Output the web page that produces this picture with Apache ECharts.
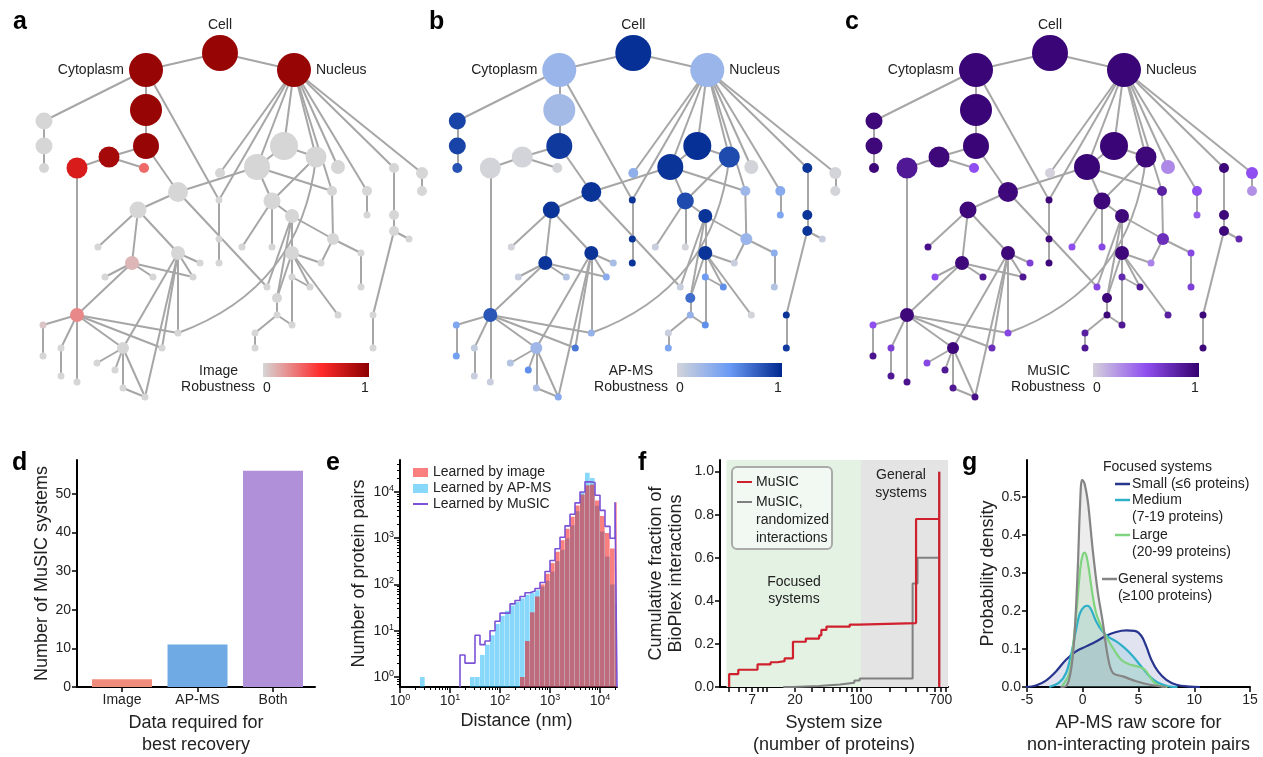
<!DOCTYPE html>
<html><head><meta charset="utf-8">
<script src="https://cdn.jsdelivr.net/npm/echarts@6/dist/echarts.min.js"></script>
<style>html,body{margin:0;padding:0;background:#fff}#c{width:1263px;height:757px}</style>
</head><body><div id="c"></div>
<script>
const FONT = "'Liberation Sans', Arial, Helvetica, sans-serif";

// ---------- Panels a-c : hierarchy of MuSIC systems ----------
const nodeX = [220,146,294,146,146,109,77,144,44,44,44,178,138,132,178,98,105,153,200,193,77,43,43,61,61,77,123,97,115,123,145,162,178,219,219,219,220,267,257,284,316,338,332,367,367,394,394,394,409,373,373,422,422,272,242,272,292,333,321,361,361,292,292,310,338,292,277,277,255,255];
const nodeY = [53,70,70,110,146,157,168,168,121,146,168,192,210,263,253,247,277,277,263,277,315,325,356,348,376,382,348,363,370,388,397,348,333,200,239,263,173,287,167,146,157,167,191,191,215,168,215,231,239,315,348,173,191,201,247,247,216,239,263,253,287,253,277,287,315,325,298,315,333,348];
const nodeSize = [36,34,34,32,26,21,21,10,17,17,10,20,17,14,14,7,7,7,7,7,14,7,7,7,7,7,12,7,7,7,7,7,7,7,7,7,10,7,26,28,21,14,10,10,7,10,10,10,7,7,7,12,10,17,7,7,14,12,7,7,7,14,7,7,7,7,10,7,7,7];
const nodeLabels = ['Cell','Cytoplasm','Nucleus'];
const edges = [[0,1],[0,2],[1,3],[3,4],[4,5],[5,6],[5,7],[1,8],[8,9],[9,10],[1,33],[2,36],[2,33],[2,38],[2,39],[2,40],[2,41],[2,42],[2,43],[2,45],[2,51],[39,40],[39,38],
 [4,11],[11,12],[11,38],[11,37],[12,15],[12,13],[12,14],[13,16],[13,17],[13,19],[14,18],[14,19],[14,26],[14,31],[14,32],[14,30],
 [6,20],[20,13],[20,21],[21,22],[20,23],[23,24],[20,25],[20,26],[20,31],[20,32],[26,27],[26,28],[26,29],[26,30],[29,30],[32,40,-0.31],
 [33,34],[34,35],[38,42],[38,53],[40,53],[53,56],[53,54],[53,55],[56,57],[56,61],[56,37],[56,66],[42,57],[57,58],[57,59],[59,60],
 [61,58],[61,62],[62,63],[61,63],[61,64],[61,65],[61,66],[66,67],[67,68],[68,69],[67,65],[43,44],[45,46],[46,47],[47,48],[47,49],[49,50],[51,52]];
const imageRobustness = [.95,.95,.95,.95,.95,.9,.7,.35,0,0,0,0,0,.1,0,0,0,0,0,0,.25,.05,0,0,0,0,0,0,0,0,0,0,0,0,0,0,0,0,0,0,0,0,0,0,0,0,0,0,0,0,0,0,0,0,0,0,0,0,0,0,0,0,0,0,0,0,0,0,0,0];
const apmsRobustness = [.97,.27,.27,.22,.93,0,0,0,.88,.88,.82,.95,.95,.95,.95,0,.05,.15,.2,.35,.8,.4,.45,.08,.05,.05,.25,.15,.55,.18,.35,.65,.3,.95,.95,.95,.32,.05,.95,.97,.85,0,.25,.35,.4,.95,.95,.95,.05,.95,.92,0,0,.85,.05,0,.95,.27,.05,.33,.15,.95,.48,.55,0,.55,.7,.3,.05,.4];
const musicRobustness = [.97,.97,.97,.97,.97,.95,.85,.5,.95,.95,.95,.95,.95,.95,.95,.9,.5,.85,.6,.85,.95,.5,.88,.6,.85,.88,.95,.55,.85,.85,.9,.7,.55,.95,.95,.95,0,.55,.97,.97,.95,.28,.8,.5,.45,.95,.95,.95,.75,.95,.95,.5,.25,.95,.5,.55,.95,.7,.3,.55,.6,.95,.75,.85,.8,.85,.95,.95,.8,.85];
const imageStops = [[0,'#d6d6d6'],[0.55,'#ff2a2a'],[1,'#8b0000']];
const apmsStops = [[0,'#d2d4da'],[0.5,'#6a9af5'],[1,'#00298f']];
const musicStops = [[0,'#d4d0dc'],[0.5,'#8f4ff0'],[1,'#35006e']];

// ---------- Panel d ----------
const dCategories = ['Image','AP-MS','Both'];
const dCounts = [2, 11, 56];
const dColors = ['#f08c7c','#6faae4','#b090d8'];
const dTicks = [0,10,20,30,40,50];

// ---------- Panel e (bins in log10 nm) ----------
const binEdgesLog10nm = [0.4,0.5,0.6,0.7,0.8,0.9,1.0,1.1,1.2,1.3,1.4,1.5,1.6,1.7,1.8,1.9,2.0,2.1,2.2,2.3,2.4,2.5,2.6,2.7,2.8,2.9,3.0,3.1,3.2,3.3,3.4,3.5,3.6,3.7,3.8,3.9,4.0,4.1,4.2,4.3,4.34];
const pairsApms  = [1,0,0,0,0,0,0,0,0,0,1,1,3,5,8,14,21,27,35,42,50,60,66,75,90,120,190,320,560,1000,1900,3800,10000,26000,20000,5000,1400,400,100,40];
const pairsImage = [0,0,0,0,0,0,0,0,0,0,0,0,0,0,0,0,0,0,0,0,1,6,25,55,100,170,290,510,900,1600,2900,5100,8800,14000,14500,6500,3000,1300,600,6000];
const pairsMusic = [0,0,0,0,0,0,0,0,3,2,2,8,5,6,10,16,24,24,38,45,55,66,72,82,110,190,330,590,1050,1850,3300,5800,10000,16500,16000,8500,4000,1800,1000,6000];
const eDecades = [0,1,2,3,4];

// ---------- Panel f ----------
const fMusicSize = [4,4,5,8,11,13,15.5,19,26,36,38,43,76,94,384,676,676];
const fMusicCum  = [0,0.06,0.08,0.105,0.115,0.12,0.133,0.21,0.225,0.24,0.265,0.28,0.29,0.297,0.78,1.0,0];
const fRandSize  = [15,19,36,60,85,97,353,398,676,676];
const fRandCum   = [0,0.005,0.012,0.02,0.03,0.04,0.48,0.6,1.0,0];
const fTickSizes = [4,5,6,7,8,9,10,20,30,40,50,60,70,80,90,100,200,300,400,500,600,700,800];
const fLabelSizes = [7,20,100,700];
const fYTicks = [0,0.2,0.4,0.6,0.8,1.0];

// ---------- Panel g ----------
const gSmallX = [-5.1,-4.2,-3.3,-2.4,-1.5,-0.6,0.3,1.2,2.1,3,3.9,4.65,5.25,5.7,6.15,6.75,7.5,8.4,9.6,10.5];
const gSmallY = [0,0.004,0.017,0.041,0.072,0.094,0.107,0.12,0.135,0.145,0.149,0.148,0.135,0.107,0.072,0.041,0.019,0.006,0.001,0];
const gMediumX = [-3,-2.1,-1.5,-1.05,-0.6,-0.24,0.15,0.45,0.75,1.2,1.65,2.25,3,3.75,4.5,5.25,6,6.75,7.65,8.5];
const gMediumY = [0,0.012,0.037,0.085,0.151,0.195,0.212,0.214,0.204,0.173,0.151,0.133,0.12,0.103,0.081,0.054,0.028,0.011,0.002,0];
const gLargeX = [-1.9,-1.2,-0.84,-0.5,-0.2,0,0.15,0.36,0.6,0.9,1.2,1.65,2.1,2.7,3.45,4.2,4.95,5.55,6,6.45,7.05,7.6];
const gLargeY = [0,0.037,0.116,0.22,0.318,0.348,0.354,0.342,0.3,0.239,0.195,0.16,0.133,0.103,0.072,0.059,0.054,0.046,0.028,0.011,0.002,0];
const gGeneralX = [-2,-1.5,-1.05,-0.75,-0.45,-0.24,-0.06,0.15,0.45,0.6,0.9,1.35,1.8,2.25,2.7,3.6,4.8,6,7.5];
const gGeneralY = [0,0.002,0.045,0.133,0.31,0.48,0.546,0.537,0.49,0.45,0.36,0.25,0.17,0.08,0.037,0.028,0.015,0.006,0];
const gStars = [[2.7,0.198],[3.5,0.169],[6.7,0.145]];
const gYTicks = [0,0.1,0.2,0.3,0.4,0.5];

// ---------- helpers ----------
function hex2rgb(h){h=h.replace('#','');return [0,2,4].map(i=>parseInt(h.substr(i,2),16));}
function colorAt(stops,v){
  for(let i=1;i<stops.length;i++){
    if(v<=stops[i][0]){
      const p0=stops[i-1][0],p1=stops[i][0],a=hex2rgb(stops[i-1][1]),b=hex2rgb(stops[i][1]);
      const t=(v-p0)/(p1-p0);
      return 'rgb('+a.map((x,k)=>Math.round(x+(b[k]-x)*t)).join(',')+')';
    }
  }
  return stops[stops.length-1][1];
}
const L10 = Math.log10;

const chart = echarts.init(document.getElementById('c'));

const netGrids = [0, 413.3, 830].map(l=>({left:l, top:0, width:420, height:410}));
const grids = netGrids.concat([
  {left:77, top:460, width:238, height:227},
  {left:400, top:460, width:217, height:227},
  {left:720, top:460, width:228, height:227},
  {left:1027, top:460, width:223, height:227}
]);

function ax(o){
  const base = {
    nameLocation:'middle',
    nameTextStyle:{fontSize:18,color:'#222',fontFamily:FONT},
    axisLine:{show:true,onZero:false,lineStyle:{color:'#000',width:2}},
    axisTick:{show:true,length:5,lineStyle:{color:'#000',width:1.5}},
    axisLabel:{fontSize:14,color:'#222',fontFamily:FONT,margin:6},
    splitLine:{show:false}
  };
  for(const k in o){
    if(base[k] && typeof base[k]==='object' && !Array.isArray(base[k]) && typeof o[k]==='object') base[k]=Object.assign({},base[k],o[k]);
    else base[k]=o[k];
  }
  return base;
}

const eXMin=0, eXMax=4.34, eYMin=-0.216, eYMax=4.69;
const eMinorX=[], eMinorY=[];
eDecades.forEach(d=>{for(let k=2;k<=9;k++){ if(d+L10(k)<=eXMax) eMinorX.push(d+L10(k)); eMinorY.push(d+L10(k)); }});
[0.7,0.8,0.9].forEach(v=>eMinorY.push(L10(v)));
const supRich = {s:{fontSize:9,color:'#222',fontFamily:FONT,verticalAlign:'top',padding:[0,0,7,0]}, b:{fontSize:14,color:'#222',fontFamily:FONT}};
const supFmt = v=>'{b|10}{s|'+Math.round(v)+'}';

const fXMin=0.505, fXMax=2.923;

const xAxes = [
  {gridIndex:0,type:'value',min:0,max:420,show:false},
  {gridIndex:1,type:'value',min:0,max:420,show:false},
  {gridIndex:2,type:'value',min:0,max:420,show:false},
  ax({gridIndex:3,type:'value',min:-0.596,max:2.556,name:'Data required for\nbest recovery',nameGap:25,
      nameTextStyle:{lineHeight:22},
      axisTick:{customValues:[0,1,2]},axisLabel:{customValues:[0,1,2],formatter:v=>dCategories[Math.round(v)]}}),
  ax({gridIndex:4,type:'value',position:'bottom',min:eXMin,max:eXMax,name:'Distance (nm)',nameGap:25,
      nameTextStyle:{padding:[0,0,0,16]},
      axisTick:{customValues:eDecades,length:6},axisLabel:{customValues:eDecades,formatter:supFmt,rich:supRich}}),
  {gridIndex:4,type:'value',position:'bottom',min:eXMin,max:eXMax,axisLine:{show:false,onZero:false},axisLabel:{show:false},splitLine:{show:false},
      axisTick:{show:true,length:3,customValues:eMinorX,lineStyle:{color:'#000',width:1}}},
  ax({gridIndex:5,type:'value',min:fXMin,max:fXMax,name:'System size\n(number of proteins)',nameGap:25,
      nameTextStyle:{lineHeight:22},
      axisTick:{customValues:fTickSizes.map(L10)},axisLabel:{customValues:fLabelSizes.map(L10),formatter:v=>String(Math.round(Math.pow(10,v)))}}),
  ax({gridIndex:6,type:'value',min:-5,max:15,interval:5,name:'AP-MS raw score for\nnon-interacting protein pairs',nameGap:25,
      nameTextStyle:{lineHeight:22}})
];
const yAxes = [
  {gridIndex:0,type:'value',min:0,max:410,inverse:true,show:false},
  {gridIndex:1,type:'value',min:0,max:410,inverse:true,show:false},
  {gridIndex:2,type:'value',min:0,max:410,inverse:true,show:false},
  ax({gridIndex:3,type:'value',min:0,max:58.8,name:'Number of MuSIC systems',nameGap:22,
      axisTick:{customValues:dTicks},axisLabel:{customValues:dTicks}}),
  ax({gridIndex:4,type:'value',position:'left',min:eYMin,max:eYMax,name:'Number of protein pairs',nameGap:32,
      axisTick:{customValues:eDecades,length:6},axisLabel:{customValues:eDecades,formatter:supFmt,rich:supRich}}),
  {gridIndex:4,type:'value',position:'left',min:eYMin,max:eYMax,axisLine:{show:false,onZero:false},axisLabel:{show:false},splitLine:{show:false},
      axisTick:{show:true,length:3,customValues:eMinorY,lineStyle:{color:'#000',width:1}}},
  ax({gridIndex:5,type:'value',min:0,max:1.054,name:'Cumulative fraction of\nBioPlex interactions',nameGap:34,
      nameTextStyle:{lineHeight:20},
      axisTick:{customValues:fYTicks},axisLabel:{customValues:fYTicks,formatter:v=>v.toFixed(1)}}),
  ax({gridIndex:6,type:'value',min:0,max:0.598,name:'Probability density',nameGap:30,
      axisTick:{customValues:gYTicks},axisLabel:{customValues:gYTicks,formatter:v=>v.toFixed(1)}})
];

function labelFor(i){
  if(i===0) return {show:true,formatter:nodeLabels[0],position:'top',distance:3,fontSize:14,color:'#222',fontFamily:FONT};
  if(i===1) return {show:true,formatter:nodeLabels[1],position:'left',distance:5,fontSize:14,color:'#222',fontFamily:FONT};
  if(i===2) return {show:true,formatter:nodeLabels[2],position:'right',distance:5,fontSize:14,color:'#222',fontFamily:FONT};
  return {show:false};
}
function netSeries(idx, rob, stops){
  return {
    type:'graph',layout:'none',coordinateSystem:'cartesian2d',xAxisIndex:idx,yAxisIndex:idx,
    symbol:'circle',roam:false,silent:true,
    lineStyle:{color:'#a6a6a6',width:2,opacity:1},
    emphasis:{disabled:true},
    data:nodeX.map((x,i)=>({name:'n'+i,value:[x,nodeY[i]],symbolSize:nodeSize[i],itemStyle:{color:colorAt(stops,rob[i])},label:labelFor(i)})),
    links:edges.map(e=>e.length>2?{source:e[0],target:e[1],lineStyle:{curveness:e[2]}}:{source:e[0],target:e[1]})
  };
}

function histSeries(name, counts, color){
  const data=[];
  counts.forEach((c,i)=>{ if(c>0) data.push([binEdgesLog10nm[i],binEdgesLog10nm[i+1],L10(c)]); });
  return {
    type:'custom',name,xAxisIndex:4,yAxisIndex:4,clip:true,data,
    encode:{x:[0,1],y:2},
    renderItem:(params,api)=>{
      const p0=api.coord([api.value(0),api.value(2)]);
      const p1=api.coord([api.value(1),eYMin]);
      return {type:'rect',shape:{x:p0[0],y:p0[1],width:Math.max(p1[0]-p0[0]-0.35,0.5),height:p1[1]-p0[1]},style:{fill:color}};
    }
  };
}
function outline(counts){
  let first=counts.findIndex(c=>c>0);
  const pts=[[binEdgesLog10nm[first],eYMin]];
  for(let i=first;i<counts.length;i++){
    const y=counts[i]>0?L10(counts[i]):eYMin;
    pts.push([binEdgesLog10nm[i],y],[binEdgesLog10nm[i+1],y]);
  }
  pts.push([binEdgesLog10nm[counts.length],eYMin]);
  return pts;
}

function densSeries(name,xs,ys,color,fill){
  return {type:'line',name,xAxisIndex:7,yAxisIndex:7,smooth:0.35,showSymbol:false,symbol:'none',
    data:xs.map((x,i)=>[x,ys[i]]),lineStyle:{color,width:2.2},areaStyle:{color:fill},z:3};
}

const series = [
  netSeries(0,imageRobustness,imageStops),
  netSeries(1,apmsRobustness,apmsStops),
  netSeries(2,musicRobustness,musicStops),
  {type:'bar',xAxisIndex:3,yAxisIndex:3,barWidth:60,data:dCounts.map((c,i)=>({value:[i,c],itemStyle:{color:dColors[i]}}))},
  histSeries('Learned by AP-MS',pairsApms,'rgba(15,178,245,0.5)'),
  histSeries('Learned by image',pairsImage,'rgba(245,0,0,0.5)'),
  {type:'line',name:'Learned by MuSIC',xAxisIndex:4,yAxisIndex:4,showSymbol:false,symbol:'none',clip:true,
    data:outline(pairsMusic),lineStyle:{color:'#7b52d6',width:1.6},z:4},
  {type:'line',xAxisIndex:6,yAxisIndex:6,data:[],symbol:'none',z:1,
    markArea:{silent:true,data:[
      [{xAxis:L10(3.75),itemStyle:{color:'#e3f2e3'}},{xAxis:2}],
      [{xAxis:2,itemStyle:{color:'#e4e4e4'}},{xAxis:fXMax}]
    ]}},
  {type:'line',name:'MuSIC, randomized interactions',xAxisIndex:6,yAxisIndex:6,step:'end',showSymbol:false,symbol:'none',
    data:fRandSize.map((s,i)=>[L10(s),fRandCum[i]]),lineStyle:{color:'#808080',width:2},z:3},
  {type:'line',name:'MuSIC',xAxisIndex:6,yAxisIndex:6,step:'end',showSymbol:false,symbol:'none',
    data:fMusicSize.map((s,i)=>[L10(s),fMusicCum[i]]),lineStyle:{color:'#d0202e',width:2.2},z:4},
  densSeries('Small (≤6 proteins)',gSmallX,gSmallY,'#27358f','rgba(45,55,150,0.2)'),
  densSeries('Medium (7-19 proteins)',gMediumX,gMediumY,'#2fb0c8','rgba(45,170,200,0.22)'),
  densSeries('Large (20-99 proteins)',gLargeX,gLargeY,'#80d480','rgba(125,210,125,0.22)'),
  densSeries('General systems (≥100 proteins)',gGeneralX,gGeneralY,'#858585','rgba(125,125,125,0.2)'),
  {type:'scatter',xAxisIndex:7,yAxisIndex:7,symbolSize:1,itemStyle:{opacity:0},z:5,
    label:{show:true,position:'inside',formatter:'****',fontSize:12,fontFamily:FONT,offset:[0,3]},
    data:gStars.map((p,i)=>({value:p,label:{color:['#80d480','#2fb0c8','#27358f'][i]}}))}
];

function T(x,y,text,o){o=o||{};return {type:'text',x,y,silent:true,z:100,style:{text,fill:o.fill||'#222',font:(o.weight||'normal')+' '+(o.size||14)+'px '+FONT,align:o.align||'left',verticalAlign:'middle'}};}
function bar(x,y,w,h,stops){return {type:'rect',silent:true,shape:{x,y,width:w,height:h},style:{fill:new echarts.graphic.LinearGradient(0,0,1,0,stops.map(s=>({offset:s[0],color:s[1]})))}};}
const graphics = [
  T(13,22,'a',{size:25,weight:'bold',fill:'#000'}),T(429,22,'b',{size:25,weight:'bold',fill:'#000'}),T(845,22,'c',{size:25,weight:'bold',fill:'#000'}),
  T(12,463,'d',{size:25,weight:'bold',fill:'#000'}),T(326,463,'e',{size:25,weight:'bold',fill:'#000'}),T(638,463,'f',{size:25,weight:'bold',fill:'#000'}),T(962,463,'g',{size:25,weight:'bold',fill:'#000'}),
  bar(263,363,106,14,imageStops),T(238,371,'Image',{align:'right'}),T(255,387,'Robustness',{align:'right'}),T(267,388,'0',{align:'center'}),T(365,388,'1',{align:'center'}),
  bar(677,363,105,14,apmsStops),T(653,371,'AP-MS',{align:'right'}),T(668,387,'Robustness',{align:'right'}),T(680,388,'0',{align:'center'}),T(778,388,'1',{align:'center'}),
  bar(1093,363,106,14,musicStops),T(1070,371,'MuSIC',{align:'right'}),T(1085,387,'Robustness',{align:'right'}),T(1097,388,'0',{align:'center'}),T(1195,388,'1',{align:'center'}),
  {type:'rect',silent:true,shape:{x:413,y:468,width:15,height:9},style:{fill:'rgba(245,0,0,0.5)'}},T(433,472,'Learned by image'),
  {type:'rect',silent:true,shape:{x:413,y:484,width:15,height:9},style:{fill:'rgba(15,178,245,0.5)'}},T(433,488,'Learned by AP-MS'),
  {type:'line',silent:true,shape:{x1:413,y1:504,x2:428,y2:504},style:{stroke:'#7b52d6',lineWidth:2}},T(433,504,'Learned by MuSIC'),
  {type:'rect',silent:true,z:50,shape:{x:732,y:467,width:100,height:82,r:5},style:{fill:'rgba(255,255,255,0.55)',stroke:'#aaaaaa',lineWidth:2}},
  {type:'line',silent:true,z:60,shape:{x1:737,y1:482,x2:752,y2:482},style:{stroke:'#d0202e',lineWidth:2}},T(756,482,'MuSIC'),
  {type:'line',silent:true,z:60,shape:{x1:737,y1:502,x2:752,y2:502},style:{stroke:'#808080',lineWidth:2}},T(756,502,'MuSIC,'),T(756,520,'randomized'),T(756,538,'interactions'),
  T(794,582,'Focused',{align:'center'}),T(794,599,'systems',{align:'center'}),
  T(901,475,'General',{align:'center'}),T(901,493,'systems',{align:'center'}),
  T(1103,467,'Focused systems'),
  {type:'line',silent:true,shape:{x1:1115,y1:484,x2:1130,y2:484},style:{stroke:'#27358f',lineWidth:2.5}},T(1132,484,'Small (≤6 proteins)'),
  {type:'line',silent:true,shape:{x1:1115,y1:500,x2:1130,y2:500},style:{stroke:'#2fb0c8',lineWidth:2.5}},T(1132,500,'Medium'),T(1132,517,'(7-19 proteins)'),
  {type:'line',silent:true,shape:{x1:1115,y1:535,x2:1130,y2:535},style:{stroke:'#80d480',lineWidth:2.5}},T(1132,535,'Large'),T(1132,552,'(20-99 proteins)'),
  {type:'line',silent:true,shape:{x1:1102,y1:579,x2:1117,y2:579},style:{stroke:'#858585',lineWidth:2.5}},T(1118,579,'General systems'),T(1118,596,'(≥100 proteins)')
];

chart.setOption({
  animation:false,
  backgroundColor:'#fff',
  textStyle:{fontFamily:FONT},
  grid:grids,
  xAxis:xAxes,
  yAxis:yAxes,
  series,
  graphic:graphics
});
</script>
</body></html>
